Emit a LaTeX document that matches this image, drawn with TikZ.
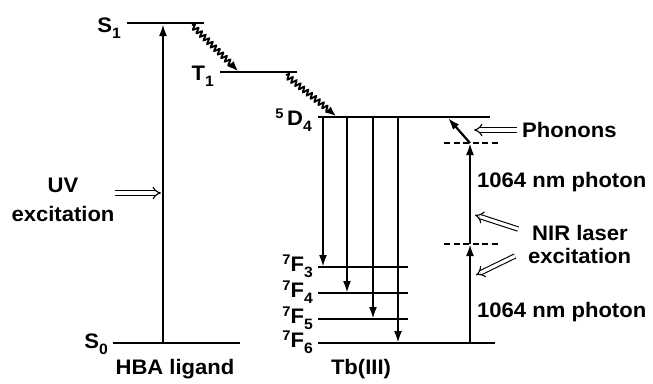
\documentclass[tikz,border=0pt]{standalone}
\usepackage{fontspec}
\setmainfont{Liberation Sans}[FakeStretch=1.05]
\usetikzlibrary{arrows.meta,decorations.pathmorphing}
\newcommand\sbx[1]{\raisebox{-6pt}{\fontsize{15}{15}\selectfont #1}}
\newcommand\spx[1]{\raisebox{7pt}{\fontsize{14}{14}\selectfont #1}}
\begin{document}
\begin{tikzpicture}[x=1pt,y=-1pt,
 lvl/.style={line width=2.6pt},
 dlvl/.style={line width=2.4pt, dash pattern=on 6pt off 3.5pt},
 tr/.style={line width=2.2pt,-{Latex[length=12pt,width=8pt]}},
 wavy/.style={line width=1.8pt, decorate, decoration={snake,amplitude=2.6pt,segment length=5pt,post length=9pt}, -{Latex[length=10pt,width=8pt]}},
 dbl/.style={double, double distance=3.2pt, line width=1.1pt, -{Implies[scale=1.6]}},
 txt/.style={font=\bfseries\fontsize{21}{24}\selectfont, inner sep=0pt},
]
\useasboundingbox (0,0) rectangle (653,383);
% level end points
\coordinate (S1l) at (127,23);  \coordinate (S1r) at (204,23);
\coordinate (S0l) at (113,343); \coordinate (S0r) at (240,343);
\coordinate (T1l) at (220,72);  \coordinate (T1r) at (297,72);
\coordinate (D4l) at (318,117); \coordinate (D4r) at (490,117);
\coordinate (F3l) at (318,267); \coordinate (F3r) at (408,267);
\coordinate (F4l) at (318,293); \coordinate (F4r) at (408,293);
\coordinate (F5l) at (318,319); \coordinate (F5r) at (408,319);
\coordinate (F6l) at (318,343); \coordinate (F6r) at (495,343);
\coordinate (V1l) at (444,244); \coordinate (V1r) at (498,244);
\coordinate (V2l) at (444,143); \coordinate (V2r) at (498,143);
% levels
\draw[lvl] (S1l) -- (S1r);
\draw[lvl] (S0l) -- (S0r);
\draw[lvl] (T1l) -- (T1r);
\draw[lvl] (D4l) -- (D4r);
\draw[lvl] (F3l) -- (F3r);
\draw[lvl] (F4l) -- (F4r);
\draw[lvl] (F5l) -- (F5r);
\draw[lvl] (F6l) -- (F6r);
\draw[dlvl] (V1l) -- (V1r);
\draw[dlvl] (V2l) -- (V2r);
% level labels
\node[txt, anchor=base east] (lS1) at (121,32) {S\sbx{1}};
\node[txt, anchor=base east] (lT1) at (214,80) {T\sbx{1}};
\node[txt, anchor=base east] (lD4) at (312,125) {\spx{5}\,D\sbx{4}};
\node[txt, anchor=base east] (lS0) at (108,348) {S\sbx{0}};
\node[txt, anchor=base east] (lF3) at (313,271) {\spx{7}F\sbx{3}};
\node[txt, anchor=base east] (lF4) at (313,297) {\spx{7}F\sbx{4}};
\node[txt, anchor=base east] (lF5) at (313,323) {\spx{7}F\sbx{5}};
\node[txt, anchor=base east] (lF6) at (313,347) {\spx{7}F\sbx{6}};
% UV excitation
\coordinate (uvb) at (163,343); \coordinate (uvt) at (163,24);
\draw[tr] (uvb) -- (uvt);
\node[txt, anchor=base] (uv) at (63,192) {UV};
\node[txt, anchor=base] (exc1) at (63,221) {excitation};
\coordinate (uva) at (115,193); \coordinate (uvh) at (161,193);
\draw[dbl] (uva) -- (uvh);
% nonradiative
\coordinate (w1a) at (192,25); \coordinate (w1b) at (238,71);
\coordinate (w2a) at (286,75); \coordinate (w2b) at (336,116);
\draw[wavy] (w1a) -- (w1b);
\draw[wavy] (w2a) -- (w2b);
% emission
\foreach \x/\y in {323/267, 347/293, 373/319, 398/343}{
  \draw[tr] (\x,118) -- (\x,\y);
}
% NIR upconversion
\coordinate (n0) at (470,343); \coordinate (n1) at (470,244); \coordinate (n2) at (470,143);
\draw[tr] (n0) -- (n1);
\draw[tr] (n1) -- (n2);
\coordinate (ph) at (448,118);
\draw[tr] (n2) -- (ph);
\node[txt, anchor=base west] (phon) at (522,137) {Phonons};
\coordinate (pha) at (517,130); \coordinate (phh) at (474,130);
\draw[dbl] (pha) -- (phh);
\node[txt, anchor=base west] (p1) at (477,187) {1064 nm photon};
\node[txt, anchor=base west] (p2) at (477,317) {1064 nm photon};
\node[txt, anchor=base west] (nir) at (532,240) {NIR laser};
\node[txt, anchor=base west] (exc2) at (528,263) {excitation};
\coordinate (na1) at (518,229); \coordinate (nh1) at (475,215);
\coordinate (na2) at (515,256); \coordinate (nh2) at (476,275);
\draw[dbl] (na1) -- (nh1);
\draw[dbl] (na2) -- (nh2);
% bottom labels
\node[txt, anchor=base] (hba) at (175,374) {HBA ligand};
\node[txt, anchor=base] (tb) at (361,374) {Tb(III)};
\end{tikzpicture}
\end{document}
